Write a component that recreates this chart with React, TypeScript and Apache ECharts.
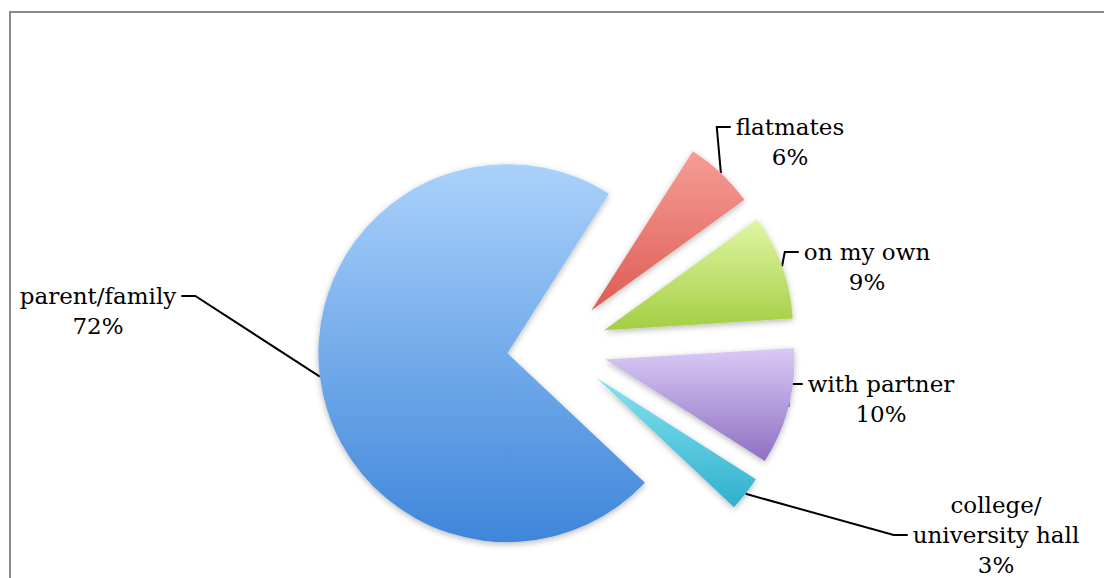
import React, { useEffect, useRef } from 'react';
import * as echarts from 'echarts';

const categories = ['flatmates', 'on my own', 'with partner', 'college/university hall', 'parent/family'];
const labelTexts = ['flatmates', 'on my own', 'with partner', 'college/\nuniversity hall', 'parent/family'];
const values = [6, 9, 10, 3, 72];

const topColors = ['#f59d96', '#e0f6a4', '#dacaf6', '#86e2f0', '#aad1fb'];
const bottomColors = ['#de5c54', '#a4ce44', '#8e70c2', '#2fb0cc', '#3f86da'];

// layout constants
const CENTER = [557, 347];
const RADIUS = 189;
const START_ANGLE = 57.5;
const EXPLODE = 50;
const LINE_H = 30;
const labelCenters = [[790, 142], [867, 267], [881, 399], [996, 535], [98, 311]];
const labelSide = [-1, -1, -1, -1, 1]; // -1: line enters from left, 1: from right
const lineRow = [-0.5, -0.5, -0.5, 0, -0.5]; // line attaches at this row offset (in lines) from block centre

export default function App() {
  const ref = useRef<HTMLDivElement>(null);
  useEffect(() => {
    if (!ref.current) return;
    const chart = echarts.init(ref.current, undefined, { renderer: 'svg' });
    const total = values.reduce((a, b) => a + b, 0);
    let cum = 0;
    const series = values.map((v, k) => {
      const a0 = START_ANGLE - (360 * cum) / total;
      const a1 = a0 - (360 * v) / total;
      cum += v;
      const mid = (((a0 + a1) / 2) * Math.PI) / 180;
      const cx = CENTER[0] + EXPLODE * Math.cos(mid);
      const cy = CENTER[1] - EXPLODE * Math.sin(mid);
      return {
        type: 'pie',
        name: categories[k],
        center: [cx, cy],
        radius: RADIUS,
        startAngle: START_ANGLE,
        clockwise: true,
        avoidLabelOverlap: false,
        emphasis: { disabled: true },
        z: k === 4 ? 1 : 2,
        data: values.map((val, i) =>
          i === k
            ? {
                name: categories[i],
                value: val,
                itemStyle: {
                  borderWidth: 0,
                  shadowBlur: 6,
                  shadowColor: 'rgba(0,0,0,0.28)',
                  shadowOffsetY: 2,
                  color: new echarts.graphic.LinearGradient(0, 0, 0, 1, [
                    { offset: 0, color: topColors[i] },
                    { offset: 1, color: bottomColors[i] },
                  ]),
                },
                label: {
                  show: true,
                  formatter: (p: any) => labelTexts[p.dataIndex] + '\n' + p.value + '%',
                  fontFamily: 'DejaVu Serif',
                  fontSize: 23,
                  lineHeight: LINE_H,
                  color: '#000',
                },
                labelLine: {
                  show: true,
                  length: 15,
                  length2: 15,
                  lineStyle: { color: '#000', width: 2 },
                },
              }
            : {
                name: categories[i],
                value: val,
                itemStyle: { color: 'rgba(0,0,0,0)', borderWidth: 0 },
                label: { show: false },
                labelLine: { show: false },
              }
        ),
        labelLayout: (params: any) => {
          if (params.dataIndex !== k) return {};
          const c = labelCenters[k];
          const w = params.labelRect.width;
          const ey = c[1] + lineRow[k] * LINE_H;
          const ex = c[0] + labelSide[k] * (w / 2 + 5);
          const bx = ex + labelSide[k] * 14;
          const anchor = params.labelLinePoints ? params.labelLinePoints[0] : [bx, ey];
          return {
            x: c[0],
            y: c[1],
            align: 'center',
            verticalAlign: 'middle',
            labelLinePoints: [anchor, [bx, ey], [ex, ey]],
          };
        },
      };
    });
    const option = {
      animation: false,
      backgroundColor: '#ffffff',
      graphic: [
        {
          type: 'rect',
          shape: { x: 10, y: 12, width: 1200, height: 700 },
          style: { fill: 'none', stroke: '#8a8a8a', lineWidth: 2 },
          silent: true,
        },
      ],
      series,
    };
    chart.setOption(option as any);
    return () => chart.dispose();
  }, []);
  return <div ref={ref} style={{ position: 'fixed', left: 0, top: 0, width: 1104, height: 578 }} />;
}
